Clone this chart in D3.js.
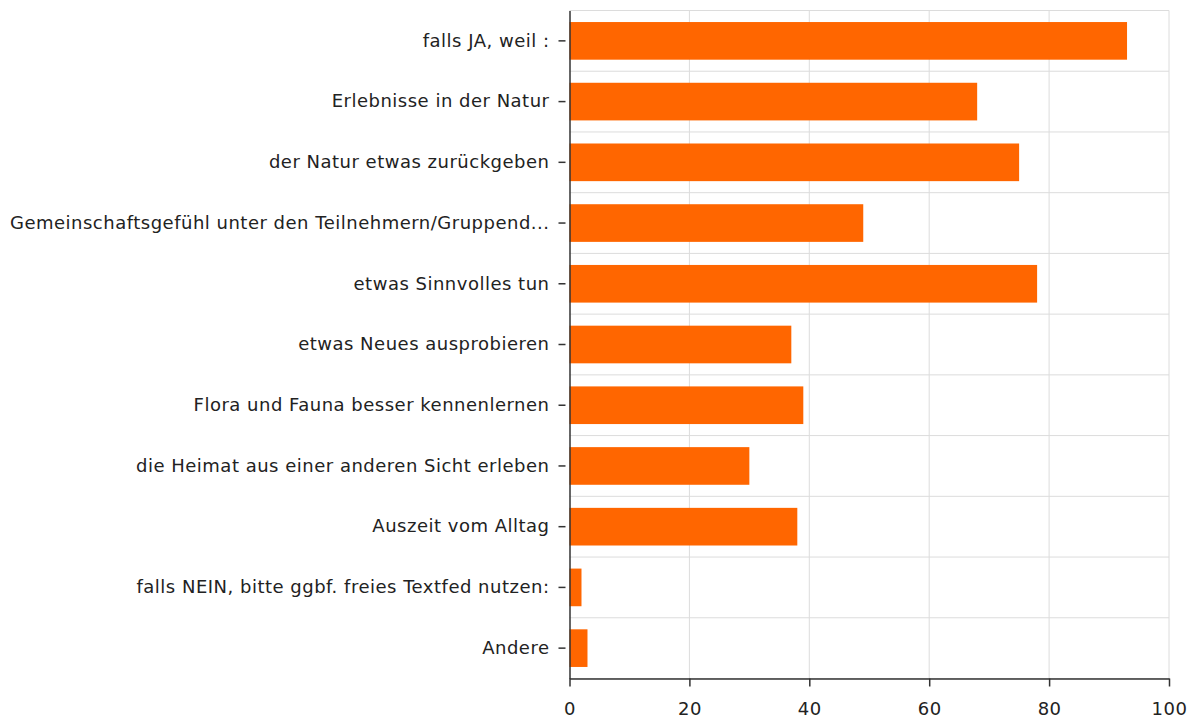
<!DOCTYPE html>
<html>
<head>
<meta charset="utf-8">
<script src="https://cdn.jsdelivr.net/npm/d3@7"></script>
<style>
  body { margin: 0; background: #fff; }
  text { font-family: "DejaVu Sans", sans-serif; }
</style>
</head>
<body>
<div id="chart"></div>
<script>
// answer options and counts
var categories = [
  "falls JA, weil :",
  "Erlebnisse in der Natur",
  "der Natur etwas zurückgeben",
  "Gemeinschaftsgefühl unter den Teilnehmern/Gruppend...",
  "etwas Sinnvolles tun",
  "etwas Neues ausprobieren",
  "Flora und Fauna besser kennenlernen",
  "die Heimat aus einer anderen Sicht erleben",
  "Auszeit vom Alltag",
  "falls NEIN, bitte ggbf. freies Textfed nutzen:",
  "Andere"
];
var counts = [93, 68, 75, 49, 78, 37, 39, 30, 38, 2, 3];
var xTicks = [0, 20, 40, 60, 80, 100];

var width = 1195, height = 720;
var margin = {top: 10.5, right: 26, bottom: 41.5, left: 569.5};
var w = width - margin.left - margin.right;
var h = height - margin.top - margin.bottom;
var fontSize = 18;

var svg = d3.select("#chart").append("svg")
  .attr("width", width)
  .attr("height", height);

var g = svg.append("g")
  .attr("transform", "translate(" + margin.left + "," + margin.top + ")");

var x = d3.scaleLinear().domain([0, 100]).range([0, w]);
var y = d3.scaleBand().domain(categories).range([0, h]).paddingInner(0.38).paddingOuter(0.19);

// grid
var step = y.step();
var bounds = d3.range(categories.length + 1).map(function(i) { return i * step; });
g.selectAll(".hgrid").data(bounds).enter().append("line")
  .attr("class", "hgrid")
  .attr("x1", 0).attr("x2", w)
  .attr("y1", function(d) { return d; }).attr("y2", function(d) { return d; })
  .attr("stroke", "#dcdcdc").attr("stroke-width", 1);
g.selectAll(".vgrid").data(xTicks.slice(1)).enter().append("line")
  .attr("class", "vgrid")
  .attr("x1", function(d) { return x(d); }).attr("x2", function(d) { return x(d); })
  .attr("y1", 0).attr("y2", h)
  .attr("stroke", "#dcdcdc").attr("stroke-width", 1);

// bars
g.selectAll(".bar").data(categories).enter().append("rect")
  .attr("class", "bar")
  .attr("x", 0)
  .attr("y", function(d) { return y(d); })
  .attr("width", function(d, i) { return x(counts[i]); })
  .attr("height", y.bandwidth())
  .attr("fill", "#ff6600");

// left axis
var yAxis = g.append("g")
  .call(d3.axisLeft(y).tickSize(0).tickPadding(20));
yAxis.select(".domain").attr("stroke", "#333").attr("stroke-width", 1.5);
yAxis.selectAll(".tick text").attr("font-size", fontSize).attr("fill", "#222")
  .attr("letter-spacing", "0.5px");
yAxis.selectAll(".tick").append("line")
  .attr("x1", -11).attr("x2", -4)
  .attr("stroke", "#333").attr("stroke-width", 1.5);

// bottom axis
var xAxis = g.append("g")
  .attr("transform", "translate(0," + h + ")")
  .call(d3.axisBottom(x).tickValues(xTicks).tickSize(8).tickSizeOuter(0).tickPadding(16));
xAxis.select(".domain").attr("stroke", "#333").attr("stroke-width", 1.5);
xAxis.selectAll(".tick line").attr("stroke", "#333").attr("stroke-width", 1.5);
xAxis.selectAll(".tick text").attr("font-size", fontSize).attr("fill", "#222")
  .attr("letter-spacing", "0.5px");
</script>
</body>
</html>
